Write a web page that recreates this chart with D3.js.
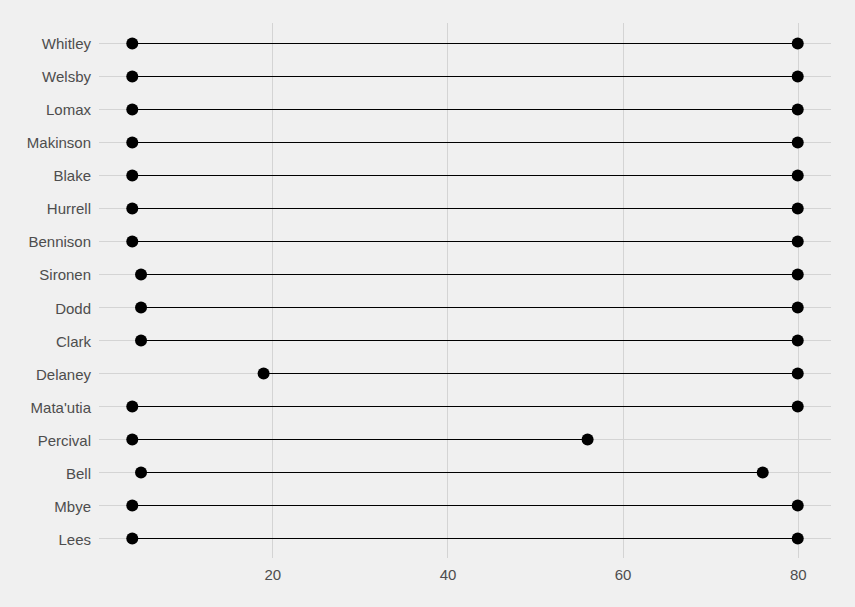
<!DOCTYPE html>
<html>
<head>
<meta charset="utf-8">
<script src="https://cdn.jsdelivr.net/npm/d3@7"></script>
<style>
  body { margin: 0; background: #f0f0f0; }
  svg { display: block; }
  .axis-label { font-family: 'Liberation Sans', Arial, sans-serif; font-size: 15px; fill: #4d4d4d; }
</style>
</head>
<body>
<div id="chart"></div>
<script>
// Players, top to bottom
const players = ['Whitley', 'Welsby', 'Lomax', 'Makinson', 'Blake', 'Hurrell', 'Bennison',
  'Sironen', 'Dodd', 'Clark', 'Delaney', "Mata'utia", 'Percival', 'Bell', 'Mbye', 'Lees'];
const startMin = [4, 4, 4, 4, 4, 4, 4, 5, 5, 5, 19, 4, 4, 5, 4, 4];
const endMin = [80, 80, 80, 80, 80, 80, 80, 80, 80, 80, 80, 80, 56, 76, 80, 80];
const xTicks = [20, 40, 60, 80];

const W = 855, H = 607;
const MARGIN = { TOP: 23, BOTTOM: 49, LEFT: 99, RIGHT: 24 };
const innerW = W - MARGIN.LEFT - MARGIN.RIGHT;
const innerH = H - MARGIN.TOP - MARGIN.BOTTOM;

const svg = d3.select('#chart').append('svg')
  .attr('width', W).attr('height', H);
svg.append('rect').attr('width', W).attr('height', H).attr('fill', '#f0f0f0');

const g = svg.append('g').attr('transform', `translate(${MARGIN.LEFT}, ${MARGIN.TOP})`);

// ggplot-like 5% expansion
const lo = d3.min(startMin), hi = d3.max(endMin);
const pad = (hi - lo) * 0.05;
const x = d3.scaleLinear().domain([lo - pad, hi + pad]).range([0, innerW]);
const y = d3.scalePoint().domain(players).range([0, innerH]).padding(0.6);
const yr = d => Math.round(y(d) + MARGIN.TOP) - MARGIN.TOP + 0.5;

// grid
g.append('g').selectAll('line').data(xTicks).join('line')
  .attr('x1', d => Math.round(x(d)) + 0.5).attr('x2', d => Math.round(x(d)) + 0.5)
  .attr('y1', 0).attr('y2', innerH)
  .attr('stroke', '#d4d4d4').attr('stroke-width', 1);
g.append('g').selectAll('line').data(players).join('line')
  .attr('x1', 0).attr('x2', innerW)
  .attr('y1', yr).attr('y2', yr)
  .attr('stroke', '#d4d4d4').attr('stroke-width', 1);

// axes (text only)
const xAxis = g.append('g').attr('transform', `translate(0, ${innerH})`)
  .call(d3.axisBottom(x).tickValues(xTicks).tickSize(0).tickPadding(11));
xAxis.select('.domain').remove();
xAxis.selectAll('text').attr('class', 'axis-label').attr('fill', null).attr('font-size', null).attr('font-family', null);

const yAxis = g.append('g')
  .call(d3.axisLeft(y).tickSize(0).tickPadding(8));
yAxis.select('.domain').remove();
yAxis.selectAll('text').attr('class', 'axis-label').attr('fill', null).attr('font-size', null).attr('font-family', null)
  .attr('dy', '0.4em');

// segments
g.append('g').selectAll('line').data(players).join('line')
  .attr('x1', (d, i) => x(startMin[i]))
  .attr('x2', (d, i) => x(endMin[i]))
  .attr('y1', yr).attr('y2', yr)
  .attr('stroke', '#000').attr('stroke-width', 1);

// dots
[startMin, endMin].forEach(vals => {
  g.append('g').selectAll('circle').data(players).join('circle')
    .attr('cx', (d, i) => x(vals[i]))
    .attr('cy', yr)
    .attr('r', 6)
    .attr('fill', '#000');
});
</script>
</body>
</html>
